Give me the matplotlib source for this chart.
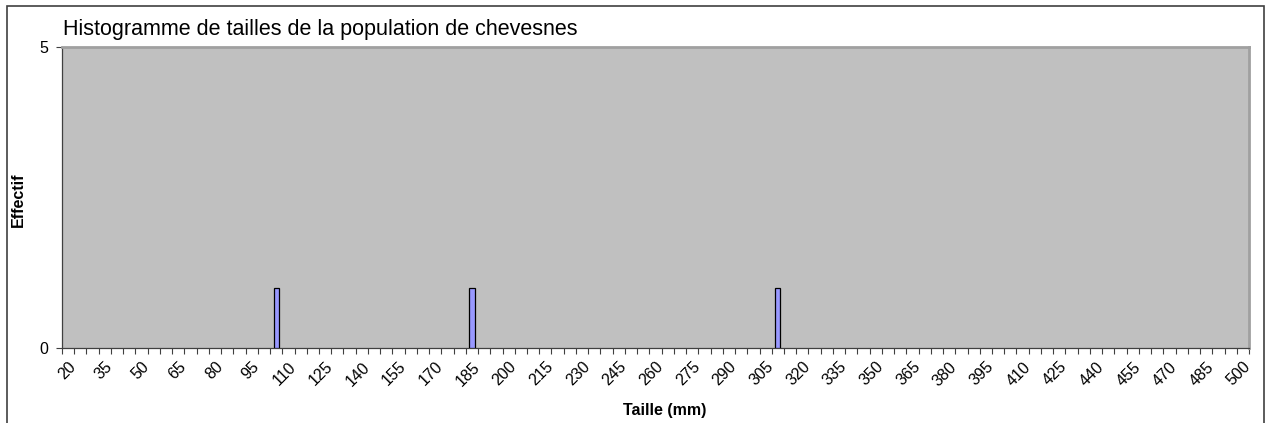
import matplotlib
matplotlib.use("Agg")
import matplotlib.pyplot as plt
from matplotlib.patches import Rectangle

plt.rcParams['font.family'] = ['Liberation Sans', 'DejaVu Sans']

# Data
categories = list(range(20, 505, 5))          # size classes (mm)
bar_sizes = [105, 185, 310]                    # classes with fish
bar_counts = [1, 1, 1]                         # counts
label_every = 3
title = "Histogramme de tailles de la population de chevesnes"
xlabel = "Taille (mm)"
ylabel = "Effectif"

fig = plt.figure(figsize=(12.68, 4.23), dpi=100)
ax = fig.add_axes([62/1268, 1 - 348/423, (1249 - 62)/1268, (348 - 47)/423])

# outer chart border
fig.patches.append(Rectangle((7/1268, -0.1), (1264 - 7)/1268, 1 - 6/423 + 0.1,
                             transform=fig.transFigure, fill=False,
                             edgecolor='#404040', linewidth=1.2))

ax.set_facecolor('#C0C0C0')
pos = [categories.index(s) for s in bar_sizes]
ax.bar(pos, bar_counts, width=0.42, color='#9999FF', edgecolor='#000000', linewidth=0.9, zorder=3)

n = len(categories)
ax.set_xlim(-0.5, n - 0.5)
ax.set_ylim(0, 5)
ax.set_yticks([0, 5])
ax.set_yticklabels(['0', '5'], fontsize=11.5)
ax.tick_params(axis='y', length=4, width=0.8, color='#404040', pad=6)

label_idx = list(range(0, n, label_every))
ax.set_xticks(label_idx)
ax.set_xticklabels([str(categories[i]) for i in label_idx], rotation=45,
                   ha='right', va='top', rotation_mode='anchor', fontsize=11.5)
ax.tick_params(axis='x', which='major', length=0, pad=8)
ax.set_xticks([i - 0.5 for i in range(n + 1)], minor=True)
ax.tick_params(axis='x', which='minor', length=4, width=0.8, color='#404040')

for s in ['left', 'bottom']:
    ax.spines[s].set_color('#404040')
    ax.spines[s].set_linewidth(0.9)
for s in ['top', 'right']:
    ax.spines[s].set_color('#A0A0A0')
    ax.spines[s].set_linewidth(2)

fig.text(63/1268, 1 - 29/423, title, fontsize=15.5, ha='left', va='center')
fig.text(665/1268, 1 - 410/423, xlabel, fontsize=11.5, fontweight='bold', ha='center', va='center')
fig.text(18/1268, 1 - 200/423, ylabel, fontsize=11.5, fontweight='bold', ha='center', va='center', rotation=90)

fig.savefig('out.png', dpi=100)
